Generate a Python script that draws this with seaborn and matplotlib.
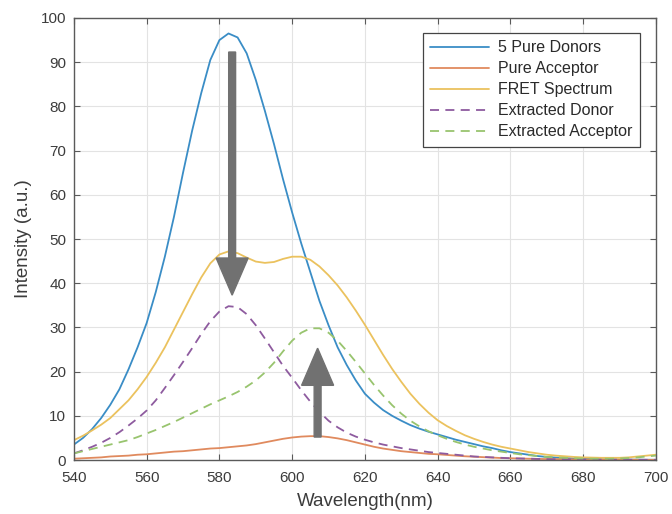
import numpy as np
import pandas as pd
import matplotlib
matplotlib.use("Agg")
import matplotlib.pyplot as plt
import seaborn as sns

wavelength = np.arange(540, 700.1, 2.5)

pure_donors = [3.5, 5, 7, 9.5, 12.5, 16, 20.5, 25.5, 31, 38, 46, 55, 65, 74.5, 83, 90.5, 95, 96.5, 95.6, 92,
               86, 79, 71.5, 63.5, 56, 49, 42.5, 36, 30.5, 25.5, 21.5, 18, 15, 13, 11.3, 10, 8.9, 7.9, 7.1, 6.4,
               5.8, 5.2, 4.6, 4.1, 3.6, 3.1, 2.7, 2.2, 1.8, 1.5, 1.2, 0.9, 0.7, 0.55, 0.45, 0.35, 0.3, 0.25, 0.2, 0.15,
               0.12, 0.1, 0.08, 0.06, 0.05]
pure_acceptor = [0.3, 0.4, 0.5, 0.6, 0.8, 0.9, 1.0, 1.2, 1.3, 1.5, 1.7, 1.9, 2.0, 2.2, 2.4, 2.6, 2.7, 2.9, 3.1, 3.3,
                 3.6, 4.0, 4.4, 4.8, 5.1, 5.3, 5.4, 5.4, 5.2, 4.9, 4.5, 4.0, 3.5, 3.0, 2.6, 2.3, 2.0, 1.8, 1.6, 1.4,
                 1.3, 1.15, 1.0, 0.85, 0.75, 0.65, 0.55, 0.45, 0.4, 0.35, 0.3, 0.25, 0.22, 0.2, 0.18, 0.15, 0.12, 0.1, 0.1, 0.08,
                 0.08, 0.07, 0.06, 0.05, 0.05]
fret_spectrum = [4.5, 5.5, 6.7, 8, 9.5, 11.5, 13.5, 16, 18.8, 22, 25.5, 29.5, 33.5, 37.5, 41.3, 44.5, 46.5, 47.2, 46.8, 45.8,
                 44.9, 44.6, 44.8, 45.5, 46.0, 46.0, 45.3, 43.8, 41.8, 39.5, 36.8, 33.8, 30.6, 27.2, 23.8, 20.6, 17.7, 15.0, 12.7, 10.7,
                 9.0, 7.7, 6.6, 5.6, 4.8, 4.1, 3.5, 3.0, 2.6, 2.2, 1.8, 1.5, 1.2, 1.0, 0.85, 0.7, 0.6, 0.55, 0.5, 0.5,
                 0.5, 0.6, 0.8, 1.0, 1.2]
extracted_donor = [1.5, 2.2, 3, 3.9, 5, 6.3, 7.8, 9.4, 11.2, 13.5, 16.3, 19.2, 22.2, 25.3, 28.5, 31.4, 33.6, 34.8, 34.6, 33.0,
                   30.5, 27.5, 24.4, 21.3, 18.6, 15.8, 13.2, 10.9, 8.9, 7.4, 6.2, 5.3, 4.6, 4.0, 3.5, 3.1, 2.7, 2.4, 2.1, 1.8,
                   1.6, 1.4, 1.2, 1.0, 0.8, 0.7, 0.6, 0.5, 0.4, 0.35, 0.3, 0.25, 0.2, 0.18, 0.15, 0.12, 0.1, 0.1, 0.08, 0.08,
                   0.07, 0.06, 0.05, 0.05, 0.05]
extracted_acceptor = [1.5, 2, 2.5, 3, 3.5, 4, 4.5, 5.2, 6, 6.8, 7.7, 8.6, 9.6, 10.6, 11.6, 12.6, 13.5, 14.4, 15.4, 16.6,
                      18, 19.8, 22, 24.6, 27, 28.8, 29.8, 29.8, 28.8, 27, 24.7, 22.2, 19.6, 17, 14.6, 12.4, 10.5, 8.9, 7.6, 6.5,
                      5.6, 4.8, 4.1, 3.5, 3.0, 2.6, 2.2, 1.9, 1.6, 1.3, 1.1, 0.9, 0.7, 0.6, 0.5, 0.4, 0.35, 0.3, 0.3, 0.3,
                      0.35, 0.45, 0.6, 0.8, 1.0]

series_names = ["5 Pure Donors", "Pure Acceptor", "FRET Spectrum", "Extracted Donor", "Extracted Acceptor"]
x_ticks = [540, 560, 580, 600, 620, 640, 660, 680, 700]
y_ticks = [0, 10, 20, 30, 40, 50, 60, 70, 80, 90, 100]

# annotation arrows (x, y_start, y_end) in data units
arrow_down = (583.5, 92.3, 37.3)
arrow_up = (607.0, 5.2, 25.3)

sns.set_theme(style="whitegrid")
plt.rcParams['font.family'] = ['Liberation Sans', 'DejaVu Sans']

fig = plt.figure(figsize=(6.72, 5.14), dpi=100)
ax = fig.add_axes([0.110, 0.105, 0.866, 0.860])
ax.set_facecolor("white")

colors = ["#3a8dc6", "#e08a5e", "#ebc25e", "#8e5b9f", "#98c46e"]
values = [pure_donors, pure_acceptor, fret_spectrum, extracted_donor, extracted_acceptor]
for i, (name, vals) in enumerate(zip(series_names, values)):
    df = pd.DataFrame({"wl": wavelength, "val": vals})
    ls = "--" if i >= 3 else "-"
    sns.lineplot(data=df, x="wl", y="val", ax=ax, color=colors[i], label=name,
                 linewidth=1.3, linestyle=ls)

for line in ax.get_lines()[3:5]:
    line.set_dashes((5, 3.5))

ax.set_xlim(540, 700)
ax.set_ylim(0, 100)
ax.set_xticks(x_ticks)
ax.set_yticks(y_ticks)
ax.grid(True, color="#e3e3e3", linewidth=0.8)
for s in ax.spines.values():
    s.set_color("#5a5a5a")
    s.set_linewidth(1.0)
ax.tick_params(direction="in", length=4, width=0.8, color="#5a5a5a", labelsize=11,
               labelcolor="#3c3c3c", top=True, right=True, bottom=True, left=True)
ax.tick_params(axis="x", pad=8)
ax.tick_params(axis="y", pad=5.5)
ax.set_xlabel("Wavelength(nm)", fontsize=13.5, color="#3c3c3c", labelpad=5.5)
ax.set_ylabel("Intensity (a.u.)", fontsize=13.5, color="#3c3c3c", labelpad=6)

arrow_color = "#717171"
for (ax_x, y0, y1) in (arrow_down, arrow_up):
    ax.arrow(ax_x, y0, 0, y1 - y0, width=1.9, head_width=8.8, head_length=8.4,
             length_includes_head=True, color=arrow_color, zorder=5)

leg = ax.legend(loc="upper right", bbox_to_anchor=(0.972, 0.966), fontsize=11.5, frameon=True,
                fancybox=False, edgecolor="#444444", framealpha=1, handlelength=3.7,
                borderpad=0.45, labelspacing=0.38, handletextpad=0.55, borderaxespad=0)
leg.get_frame().set_linewidth(0.9)
for t in leg.get_texts():
    t.set_color("#2a2a2a")

fig.savefig("out.png", dpi=100, facecolor="white")
